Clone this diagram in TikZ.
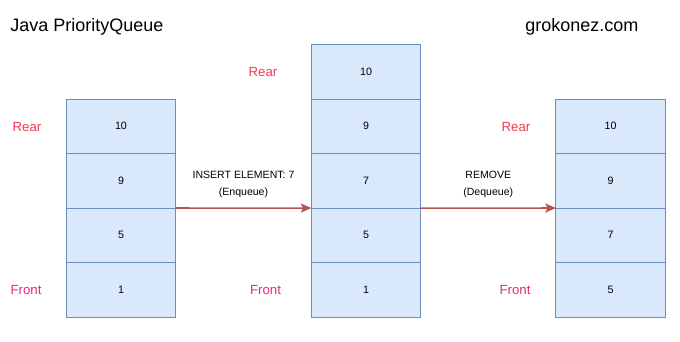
\documentclass[tikz,border=0pt]{standalone}
\usepackage{fontspec}
\setmainfont{Liberation Sans}
\usepackage{xcolor}
\usepackage{tikz}
\usetikzlibrary{arrows.meta,positioning}
\definecolor{cellblue}{HTML}{DAE8FC}
\definecolor{cellline}{HTML}{6C8EBF}
\definecolor{rearred}{HTML}{F03A4F}
\definecolor{frontpink}{HTML}{E6287E}
\definecolor{arrowred}{HTML}{B85450}

\begin{document}
\begin{tikzpicture}[x=0.025cm,y=-0.025cm,
  cell/.style={rectangle,draw=cellline,fill=cellblue,line width=0.7pt,minimum width=2.725cm,minimum height=1.3625cm,inner sep=0pt,outer sep=0pt,font=\fontsize{7.6}{9}\selectfont},
  rear/.style={text=rearred,font=\fontsize{9.4}{11}\selectfont},
  front/.style={text=frontpink,font=\fontsize{9.4}{11}\selectfont},
  oplabel/.style={align=center,font=\fontsize{7.5}{12}\selectfont},
  title/.style={anchor=west,inner sep=0pt,font=\fontsize{12.8}{15}\selectfont},
  arr/.style={draw=arrowred,line width=1.1pt,-{Stealth[length=7.6pt,width=6.4pt,inset=1.6pt]}}
]
\useasboundingbox (0,0) rectangle (680,342);

\node[title] (java) at (10,27) {Java PriorityQueue};
\node[title] (site) at (525,27) {grokonez.com};

% queue before insert
\node[cell] (l1) at (121,126.25) {10};
\node[cell,below=0pt of l1] (l2) {9};
\node[cell,below=0pt of l2] (l3) {5};
\node[cell,below=0pt of l3] (l4) {1};

% queue after insert
\node[cell] (m1) at (366,71.75) {10};
\node[cell,below=0pt of m1] (m2) {9};
\node[cell,below=0pt of m2] (m3) {7};
\node[cell,below=0pt of m3] (m4) {5};
\node[cell,below=0pt of m4] (m5) {1};

% queue after remove
\node[cell] (r1) at (610.5,126.25) {10};
\node[cell,below=0pt of r1] (r2) {9};
\node[cell,below=0pt of r2] (r3) {7};
\node[cell,below=0pt of r3] (r4) {5};

\node[rear] (lrear) at (27,127) {Rear};
\node[front] (lfront) at (26,290) {Front};
\node[rear] (mrear) at (263,72) {Rear};
\node[front] (mfront) at (265.5,290) {Front};
\node[rear] (rrear) at (516,127) {Rear};
\node[front] (rfront) at (515,290) {Front};

\draw[arr] (l2.south east) -- node[oplabel,above=3.5pt] {INSERT ELEMENT: 7\\(Enqueue)} (m3.south west);
\draw[arr] (m3.south east) -- node[oplabel,above=3.5pt] {REMOVE\\(Dequeue)} (r2.south west);
\end{tikzpicture}
\end{document}
